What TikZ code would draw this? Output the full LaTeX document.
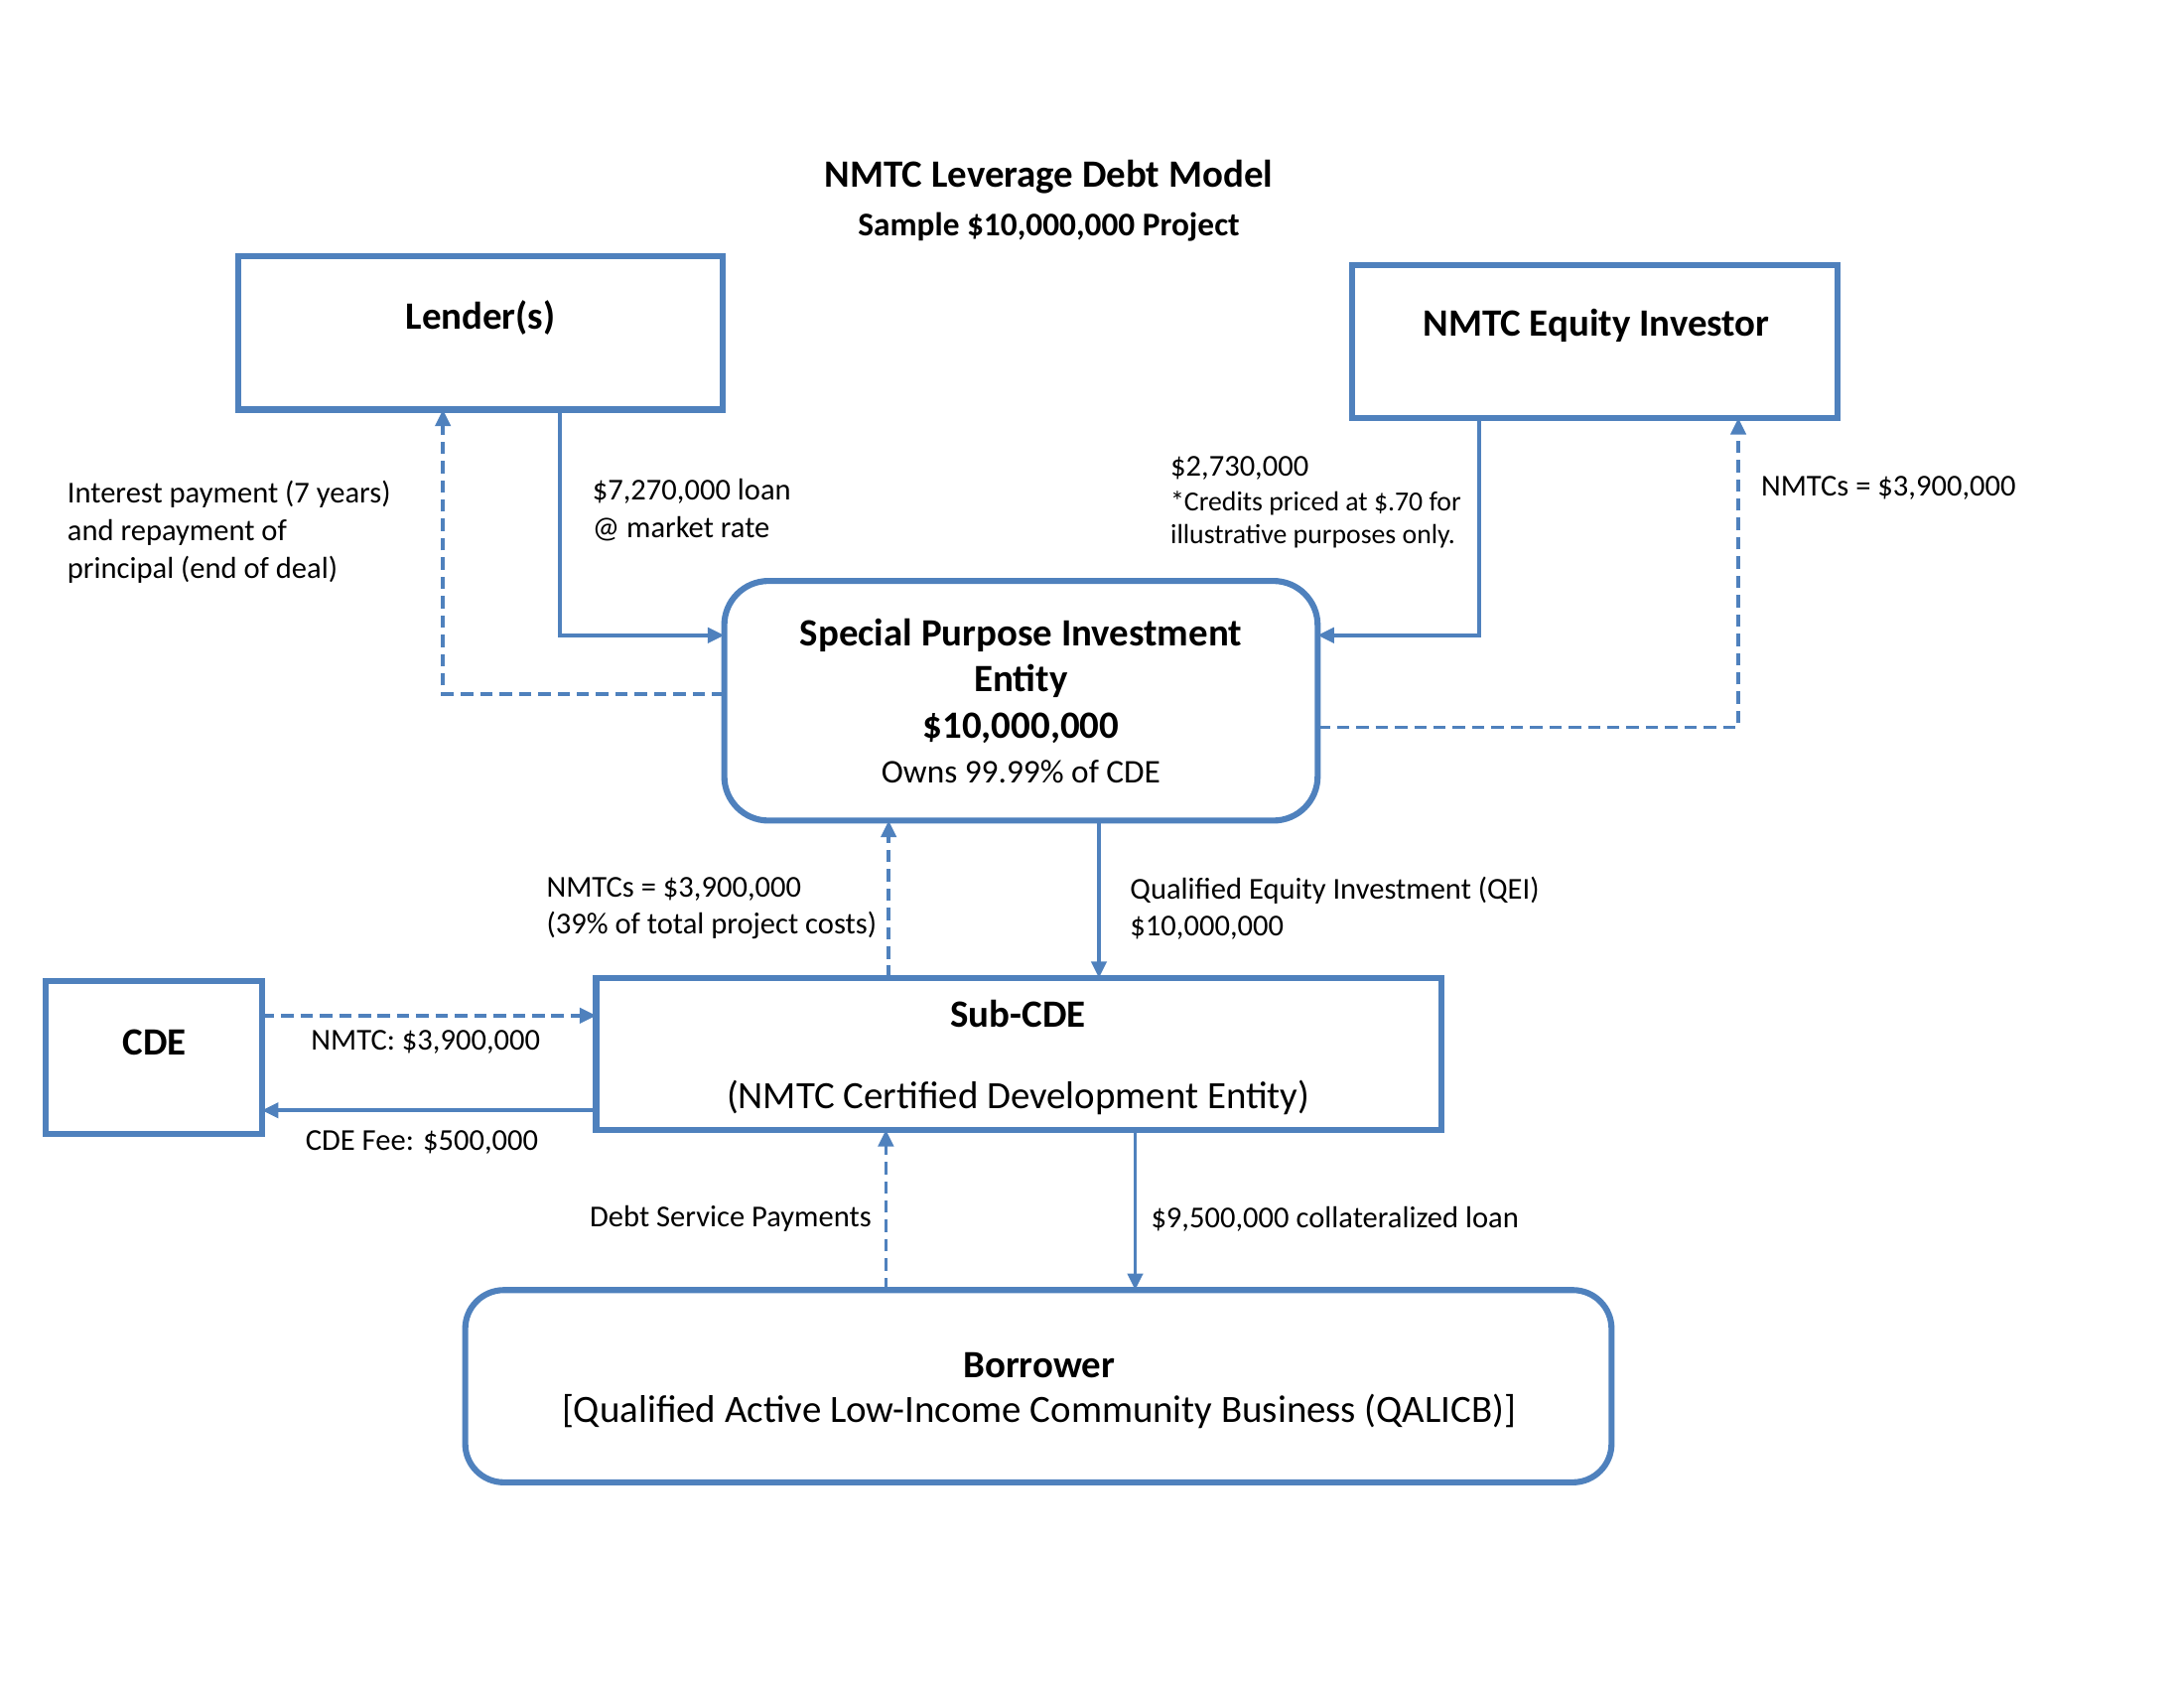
\documentclass[tikz,border=0pt]{standalone}
\usepackage{fontspec}
\setmainfont{Carlito}
\usetikzlibrary{arrows.meta,calc}
\definecolor{obl}{HTML}{4F81BD}
\tikzset{
  box/.style={draw=obl,line width=2.2pt,anchor=north west,inner sep=0pt,outer sep=0pt},
  rbox/.style={box,rounded corners=16pt},
  conn/.style={draw=obl,line width=1.3pt,-{Triangle[length=6pt,width=5.5pt]}},
  dconn/.style={conn,dash pattern=on 4.5pt off 2.5pt},
  lbl/.style={font=\fontsize{11}{13.6}\selectfont,align=left,inner sep=0pt},
  btxt/.style={font=\fontsize{14}{16}\selectfont\bfseries,inner sep=0pt},
}
\begin{document}
\begin{tikzpicture}[x=0.5051pt,y=-0.5051pt]
\useasboundingbox (0,0) rectangle (1568,1212);
% title
\node[btxt] (title) at (753,127) {NMTC Leverage Debt Model};
\node[btxt,font=\fontsize{12}{14}\selectfont\bfseries] (subtitle) at (753,163) {Sample \$10,000,000 Project};
% boxes
\node[box,minimum width=348*0.5051pt,minimum height=110*0.5051pt] (lender) at (171,184) {};
\node[btxt] (lendert) at (345,228) {Lender(s)};
\node[box,minimum width=348*0.5051pt,minimum height=110*0.5051pt] (equity) at (971,190) {};
\node[btxt] (equityt) at (1146,234) {NMTC Equity Investor};
\node[rbox,minimum width=426*0.5051pt,minimum height=172*0.5051pt] (spie) at (520,417) {};
\node[btxt] (spie1) at (733,456) {Special Purpose Investment};
\node[btxt] (spie2) at (733,489) {Entity};
\node[btxt] (spie3) at (733,523) {\$10,000,000};
\node[btxt,font=\fontsize{12}{14}\selectfont] (spie4) at (733,554) {Owns 99.99\% of CDE};
\node[box,minimum width=607*0.5051pt,minimum height=109*0.5051pt] (sub) at (428,702) {};
\node[btxt] (sub1) at (731,728) {Sub-CDE};
\node[btxt,font=\fontsize{14}{16}\selectfont] (sub2) at (731,788) {(NMTC Certified Development Entity)};
\node[box,minimum width=155*0.5051pt,minimum height=110*0.5051pt] (cde) at (33,704) {};
\node[btxt] (cdet) at (111,748) {CDE};
\node[rbox,rounded corners=14pt,minimum width=823*0.5051pt,minimum height=138*0.5051pt] (borrower) at (334,926) {};
\node[btxt] (bor1) at (746,980) {Borrower};
\node[btxt,font=\fontsize{14}{16}\selectfont] (bor2) at (746,1013) {[Qualified Active Low-Income Community Business (QALICB)]};
% connectors
\draw[conn] (lender.south -| 402,0) |- (spie.west |- 0,456);
\draw[dconn] (spie.west |- 0,498) -| (lender.south -| 318,0);
\draw[conn] (equity.south -| 1062,0) |- (spie.east |- 0,456);
\draw[dconn] (spie.east |- 0,522) -| (equity.south -| 1248,0);
\draw[dconn] (sub.north -| 638,0) -- (spie.south -| 638,0);
\draw[conn] (spie.south -| 789,0) -- (sub.north -| 789,0);
\draw[dconn] (cde.east |- 0,729) -- (sub.west |- 0,729);
\draw[conn] (sub.west |- 0,797) -- (cde.east |- 0,797);
\draw[dconn] (borrower.north -| 636,0) -- (sub.south -| 636,0);
\draw[conn] (sub.south -| 815,0) -- (borrower.north -| 815,0);
% labels
\node[lbl,anchor=west] (l1) at (48,382) {Interest payment (7 years)\\and repayment of\\principal (end of deal)};
\node[lbl,anchor=west] (l2) at (425,366) {\$7,270,000 loan\\@ market rate};
\node[lbl,anchor=west] (l3) at (840,336) {\$2,730,000};
\node[lbl,anchor=west,font=\fontsize{10}{12.2}\selectfont] (l4) at (840,373) {*Credits priced at \$.70 for\\illustrative purposes only.};
\node[lbl,anchor=west] (l5) at (1264,350) {NMTCs = \$3,900,000};
\node[lbl,anchor=west] (l6) at (392,652) {NMTCs = \$3,900,000\\(39\% of total project costs)};
\node[lbl,anchor=west] (l7) at (811,652) {Qualified Equity Investment (QEI)\\\$10,000,000};
\node[lbl,anchor=west] (l8) at (223,748) {NMTC: \$3,900,000};
\node[lbl,anchor=west] (l9) at (219,820) {CDE Fee: \$500,000};
\node[lbl,anchor=east] (l10) at (626,875) {Debt Service Payments};
\node[lbl,anchor=west] (l11) at (826,875) {\$9,500,000 collateralized loan};
\end{tikzpicture}
\end{document}
